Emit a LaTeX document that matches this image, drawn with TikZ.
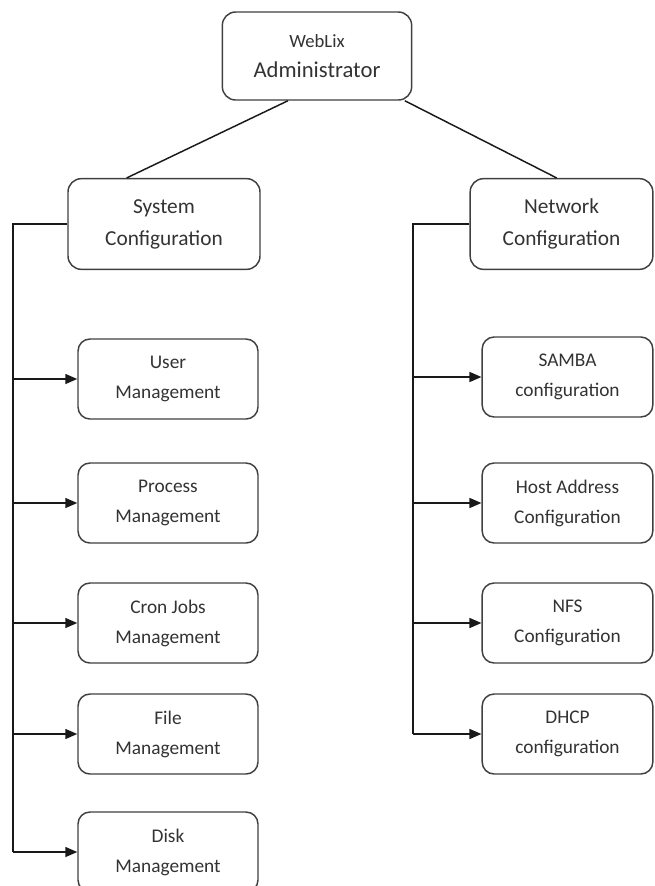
\documentclass[tikz,border=0pt]{standalone}
\usepackage{fontspec}
\setmainfont{Carlito}
\usetikzlibrary{positioning, arrows.meta, calc}

\begin{document}
\begin{tikzpicture}[
    x=0.75pt, y=-0.75pt,
    rootbox/.style={draw=black!75, line width=1.1pt, rectangle, rounded corners=10pt, minimum width=142pt, minimum height=66pt, align=center, fill=white, text=black!80, font=\fontsize{17}{22.5}\selectfont},
    groupbox/.style={draw=black!75, line width=1.1pt, rectangle, rounded corners=10pt, minimum height=68pt, align=center, fill=white, text=black!80, font=\fontsize{16}{24}\selectfont},
    itembox/.style={draw=black!75, line width=1.1pt, rectangle, rounded corners=9pt, minimum height=60pt, align=center, fill=white, text=black!80, font=\fontsize{14.5}{22.5}\selectfont},
    link/.style={draw=black!90, line width=1.1pt},
    feed/.style={link, -{Triangle[length=9pt, width=7.5pt]}}
]
    \useasboundingbox (0,0) rectangle (655,886);

    % --- Root ---
    \node[rootbox] (admin) at (317,56) {{\fontsize{14}{20}\selectfont WebLix}\\Administrator};

    % --- Groups ---
    \node[groupbox, minimum width=144pt] (sys) at (164,224) {System\\Configuration};
    \node[groupbox, minimum width=137pt] (net) at (561.5,224) {Network\\Configuration};

    % Root to groups
    \draw[link] (admin.237) -- (sys.129);
    \draw[link] (admin.333) -- (net.96);

    % --- System items ---
    \node[itembox, minimum width=135pt] (user) at (168,379) {User\\Management};
    \node[itembox, minimum width=135pt] (proc) at (168,503) {Process\\Management};
    \node[itembox, minimum width=135pt] (cron) at (168,623) {Cron Jobs\\Management};
    \node[itembox, minimum width=135pt] (file) at (168,734) {File\\Management};
    \node[itembox, minimum width=135pt] (disk) at (168,852) {Disk\\Management};

    % --- Network items ---
    \node[itembox, minimum width=128pt] (samba) at (567.5,377) {SAMBA\\configuration};
    \node[itembox, minimum width=128pt] (host) at (567.5,503) {Host Address\\Configuration};
    \node[itembox, minimum width=128pt] (nfs) at (567.5,623) {NFS\\Configuration};
    \node[itembox, minimum width=128pt] (dhcp) at (567.5,734) {DHCP\\configuration};

    % Left bus
    \coordinate (lbus) at (13,0);
    \draw[link] (sys.west) -- (lbus |- sys.west) -- (lbus |- disk.west);
    \draw[feed] (lbus |- user.west) -- (user.west);
    \draw[feed] (lbus |- proc.west) -- (proc.west);
    \draw[feed] (lbus |- cron.west) -- (cron.west);
    \draw[feed] (lbus |- file.west) -- (file.west);
    \draw[feed] (lbus |- disk.west) -- (disk.west);

    % Right bus
    \coordinate (rbus) at (413,0);
    \draw[link] (net.west) -- (rbus |- net.west) -- (rbus |- dhcp.west);
    \draw[feed] (rbus |- samba.west) -- (samba.west);
    \draw[feed] (rbus |- host.west) -- (host.west);
    \draw[feed] (rbus |- nfs.west) -- (nfs.west);
    \draw[feed] (rbus |- dhcp.west) -- (dhcp.west);

\end{tikzpicture}
\end{document}
